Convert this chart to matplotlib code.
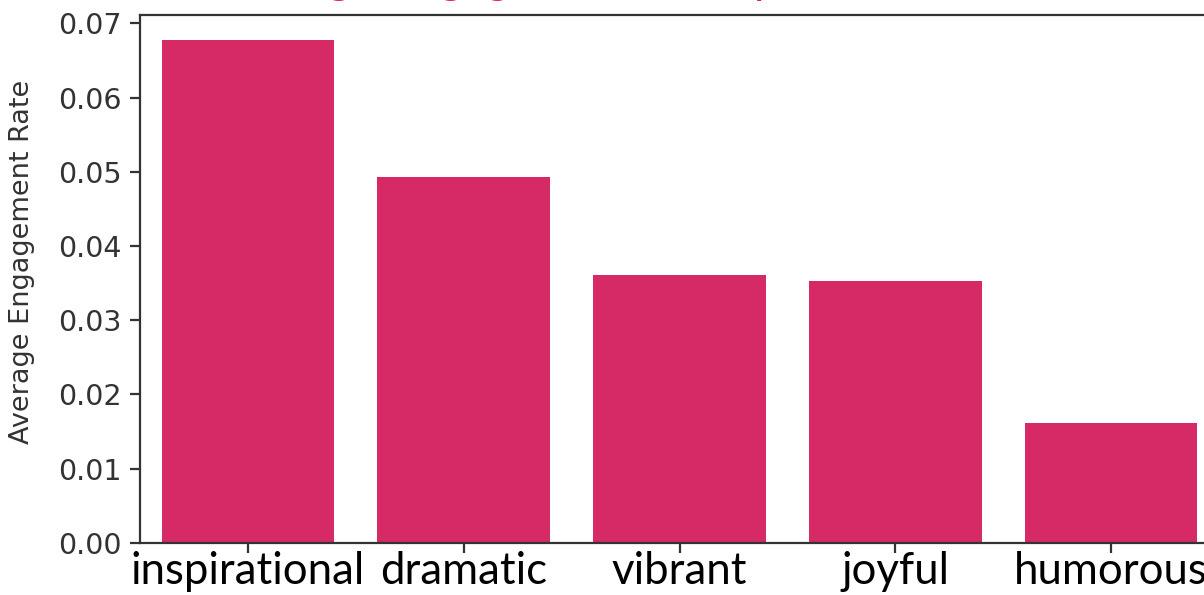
import matplotlib.pyplot as plt

categories = ["inspirational", "dramatic", "vibrant", "joyful", "humorous"]
engagement = [0.0677, 0.0493, 0.0361, 0.0353, 0.0162]
title = "Average Engagement Rate per Emotional Tone"

BAR_COLOR = "#D52A66"
TITLE_COLOR = "#EC1A5E"
AXIS_COLOR = "#333333"


def main():
    fig = plt.figure(figsize=(12.04, 5.95), dpi=100)
    # axes runs past the right edge, the reference is cropped there
    ax = fig.add_axes([140 / 1204, 52.3 / 595, 1079 / 1204, 527.4 / 595])

    x = list(range(len(categories)))
    ax.bar(x, engagement, width=0.8, color=BAR_COLOR)
    ax.set_xlim(-0.5, len(categories) - 0.5)
    ax.set_ylim(0, max(engagement) * 1.05)
    ax.set_yticks([0.0, 0.01, 0.02, 0.03, 0.04, 0.05, 0.06, 0.07])
    ax.set_yticklabels([f"{v:.2f}" for v in ax.get_yticks()])

    ax.set_xticks(x)
    ax.set_xticklabels(categories, family="Lato", fontsize=31.5, color="black")
    ax.tick_params(axis="x", length=7, width=1.6, pad=-1, colors=AXIS_COLOR, labelcolor="black")
    ax.tick_params(axis="y", length=7, width=1.6, pad=6, labelsize=20.5,
                   colors=AXIS_COLOR, labelcolor=AXIS_COLOR)
    ax.set_ylabel("Average Engagement Rate", fontsize=19.5, color=AXIS_COLOR)
    ax.yaxis.set_label_coords(-0.097, 0.532)

    for side in ax.spines.values():
        side.set_linewidth(1.6)
        side.set_color(AXIS_COLOR)

    # title sits above the visible frame, only descenders show
    fig.text(679.5 / 1204, 1.012, title, ha="center", va="baseline",
             family="Lato", fontsize=33, color=TITLE_COLOR)

    fig.savefig("out.png", dpi=100)


if __name__ == "__main__":
    main()
